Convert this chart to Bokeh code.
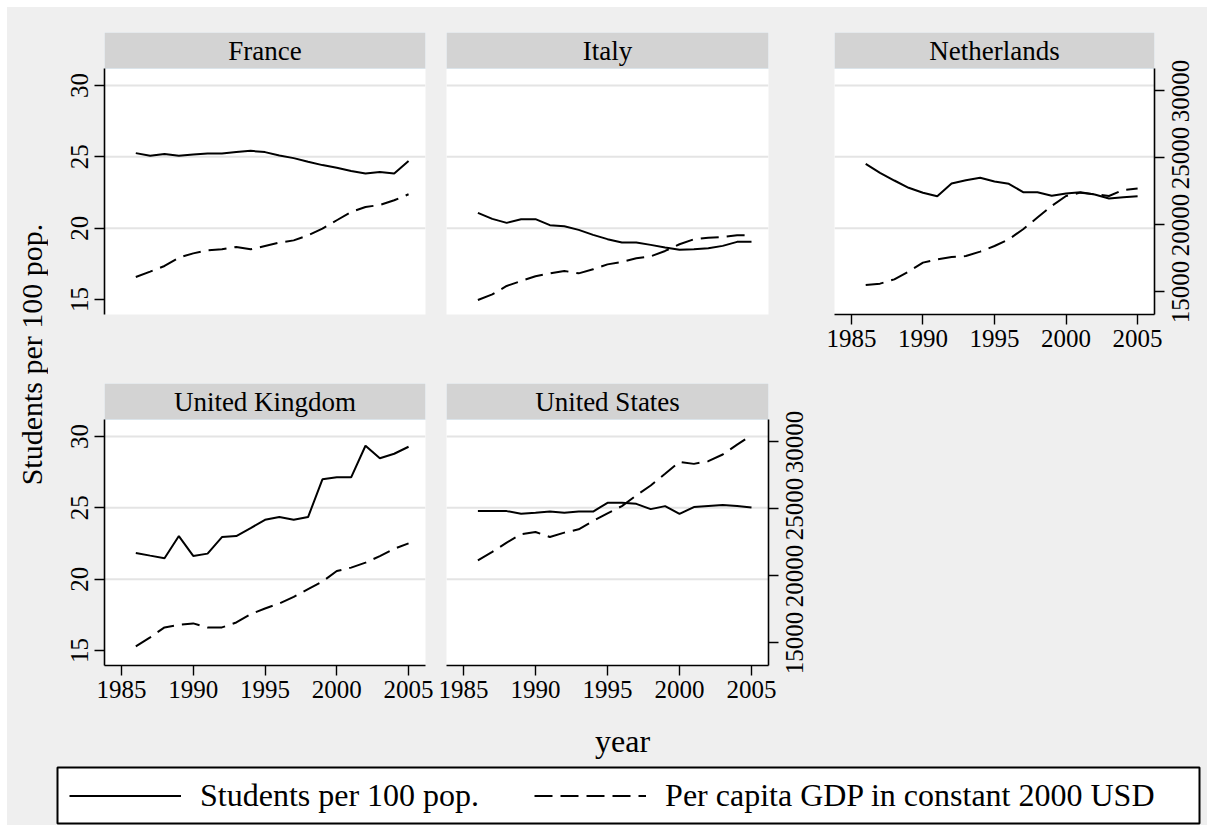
import math
from bokeh.plotting import figure
from bokeh.layouts import row, column
from bokeh.models import (Range1d, LinearAxis, FixedTicker, ColumnDataSource, Span,
                          Legend, LegendItem)
from bokeh.core.properties import value
from bokeh.embed import file_html
from bokeh.resources import INLINE

# ---------------- data ----------------
years = list(range(1986, 2006))

countries = ["France", "Italy", "Netherlands", "United Kingdom", "United States"]

students_france = [25.26, 25.07, 25.19, 25.07, 25.16, 25.23, 25.23, 25.33, 25.42, 25.33,
                   25.09, 24.91, 24.65, 24.42, 24.23, 24.00, 23.83, 23.93, 23.83, 24.70]
gdp_france = [16120, 16520, 16940, 17560, 17880, 18110, 18180, 18360, 18180, 18430,
              18680, 18850, 19230, 19730, 20350, 20970, 21340, 21490, 21840, 22290]

students_italy = [21.07, 20.65, 20.37, 20.63, 20.63, 20.21, 20.14, 19.88, 19.53, 19.23,
                  19.00, 19.00, 18.83, 18.64, 18.48, 18.53, 18.60, 18.76, 19.04, 19.04]
gdp_italy = [14400, 14820, 15450, 15820, 16170, 16390, 16570, 16390, 16690, 17060,
             17240, 17510, 17660, 18060, 18560, 18930, 19050, 19100, 19230, 19230]

students_netherlands = [24.51, 23.88, 23.34, 22.83, 22.48, 22.24, 23.13, 23.36, 23.53, 23.27,
                        23.11, 22.52, 22.52, 22.27, 22.43, 22.52, 22.36, 22.08, 22.17, 22.24]
gdp_netherlands = [15520, 15620, 15940, 16520, 17190, 17440, 17610, 17680, 18010, 18430,
                   18930, 19680, 20550, 21420, 22160, 22410, 22290, 22160, 22610, 22710]

students_uk = [21.84, 21.65, 21.47, 23.02, 21.63, 21.79, 22.95, 23.02, 23.58, 24.16,
               24.35, 24.16, 24.35, 27.00, 27.14, 27.14, 29.35, 28.47, 28.79, 29.28]
gdp_uk = [14750, 15420, 16160, 16360, 16460, 16160, 16160, 16530, 17150, 17570,
          17950, 18440, 19010, 19580, 20370, 20620, 20990, 21480, 22030, 22430]

students_us = [24.77, 24.77, 24.77, 24.58, 24.65, 24.74, 24.65, 24.74, 24.74, 25.35,
               25.35, 25.28, 24.91, 25.12, 24.58, 25.05, 25.12, 25.19, 25.12, 25.02]
gdp_us = [21170, 21790, 22490, 23110, 23280, 22910, 23230, 23480, 24100, 24670,
          25210, 26010, 26750, 27620, 28510, 28360, 28560, 29060, 29800, 30500]

students_ticks = [15, 20, 25, 30]
grid_ticks = [20, 25, 30]
gdp_ticks = [15000, 20000, 25000, 30000]
year_ticks = [1985, 1990, 1995, 2000, 2005]

series_labels = ["Students per 100 pop.", "Per capita GDP in constant 2000 USD"]
x_title = "year"
y_title = "Students per 100 pop."

# ---------------- styling / geometry ----------------
FONT = "Liberation Serif"
BG = "#efefef"
STRIP = "#d3d3d3"
STRIP_EDGE = "#dbe4ea"
GRID = "#e4e4e4"
DASH = "18 8"
TICK_FS = "25px"

X_LO, X_HI = 1983.82, 2006.18
Y_LO, Y_HI = 13.95, 31.19
G_LO, G_HI = 13320, 31670
PLOT_PX, STRIP_PX = 246, 36
FRAME_PX = PLOT_PX + STRIP_PX
Y_TOP = Y_HI + (Y_HI - Y_LO) * STRIP_PX / PLOT_PX
G_TOP = G_HI + (G_HI - G_LO) * STRIP_PX / PLOT_PX
RIGHT_TICK_BORDER = 12   # right border of panels that carry the GDP axis (ticks only)
RIGHT_LABEL_GAP = 5      # from that border to the top of the rotated GDP labels


def style_axis(ax):
    ax.major_tick_out = 10
    ax.major_tick_in = 0
    ax.minor_tick_out = 0
    ax.minor_tick_in = 0
    ax.axis_line_width = 1.6
    ax.axis_line_color = "black"
    ax.major_tick_line_width = 1.4
    ax.major_tick_line_color = "black"
    ax.major_label_text_font = FONT
    ax.major_label_text_font_size = TICK_FS
    ax.major_label_text_color = "black"
    ax.major_label_standoff = 6


def base_fig(w, h, xr, yr, mb, bg, border, outline=None, outline_w=1):
    f = figure(width=w, height=h, x_range=xr, y_range=yr,
               x_axis_location=None, y_axis_location=None, toolbar_location=None,
               output_backend="svg", title=None,
               min_border_left=mb[0], min_border_right=mb[1],
               min_border_top=mb[2], min_border_bottom=mb[3],
               background_fill_color=bg, border_fill_color=border,
               outline_line_color=outline, outline_line_width=outline_w)
    f.xgrid.visible = False
    f.ygrid.visible = False
    try:
        f.frame_align = False   # keep every figure's own borders in the layout
    except AttributeError:
        pass
    return f


def panel(name, students, gdp, left, right, bottom, mb_l, mb_r, mb_t, mb_b, frame_w):
    w = mb_l + frame_w + mb_r
    h = mb_t + FRAME_PX + mb_b
    p = base_fig(w, h, Range1d(X_LO, X_HI), Range1d(Y_LO, Y_TOP),
                 (mb_l, mb_r, mb_t, mb_b), "white", BG)
    p.extra_y_ranges = {"gdp": Range1d(G_LO, G_TOP)}
    for v in grid_ticks:
        p.add_layout(Span(location=v, dimension="width", line_color=GRID,
                          line_width=2, level="underlay"))
    # header strip
    p.quad(left=[X_LO], right=[X_HI], bottom=[Y_HI], top=[Y_TOP],
           fill_color=STRIP, line_color=STRIP_EDGE, line_width=1)
    p.text(x=[(X_LO + X_HI) / 2], y=[(Y_HI + Y_TOP) / 2], text=[name],
           text_align="center", text_baseline="middle", text_color="black",
           text_font=value(FONT), text_font_size="27px")
    src = ColumnDataSource(dict(year=years, students=students, gdp=gdp))
    p.line("year", "students", source=src, line_color="black", line_width=2)
    p.line("year", "gdp", source=src, y_range_name="gdp", line_color="black",
           line_width=2, line_dash=DASH)
    if left:
        ax = LinearAxis(ticker=FixedTicker(ticks=students_ticks, minor_ticks=[]),
                        bounds=(Y_LO, Y_HI))
        style_axis(ax)
        ax.major_label_orientation = "vertical"   # reads bottom-to-top, centred on tick
        p.add_layout(ax, "left")
    if right:
        ax = LinearAxis(y_range_name="gdp", ticker=FixedTicker(ticks=gdp_ticks, minor_ticks=[]),
                        bounds=(G_LO, G_HI))
        style_axis(ax)
        # the tick labels are drawn in the label column beside the panel
        ax.major_label_text_font_size = "1px"
        ax.major_label_text_color = None
        ax.major_label_standoff = 0
        p.add_layout(ax, "right")
    if bottom:
        ax = LinearAxis(ticker=FixedTicker(ticks=year_ticks, minor_ticks=[]),
                        bounds=(X_LO, X_HI))
        style_axis(ax)
        ax.major_label_standoff = 5
        p.add_layout(ax, "below")
    return p


def gdp_label_fig(w, mb_t, mb_b):
    """Column to the right of a panel carrying the rotated GDP tick labels,
    on the same GDP scale as the panel it sits next to."""
    h = mb_t + FRAME_PX + mb_b
    upp = (G_TOP - G_LO) / FRAME_PX
    f = base_fig(w, h, Range1d(0, w), Range1d(G_LO - mb_b * upp, G_TOP + mb_t * upp),
                 (0, 0, 0, 0), BG, BG)
    f.text(x=[RIGHT_LABEL_GAP] * len(gdp_ticks), y=gdp_ticks, text=[str(t) for t in gdp_ticks],
           angle=math.pi / 2, text_align="center", text_baseline="top", text_color="black",
           text_font=value(FONT), text_font_size=TICK_FS)
    return f


MARGIN = 7
INNER_W = 1200
ROW1_T, ROW1_B = 25, 69
ROW2_T, ROW2_B = 0, 47

# column 1
f_fr = panel(countries[0], students_france, gdp_france, True, False, False, 56, 10, ROW1_T, ROW1_B, 321)
f_uk = panel(countries[3], students_uk, gdp_uk, True, False, True, 56, 10, ROW2_T, ROW2_B, 321)
# column 2
f_it = panel(countries[1], students_italy, gdp_italy, False, False, False, 11, 48, ROW1_T, ROW1_B, 322)
f_us = panel(countries[4], students_us, gdp_us, False, True, True, 11, RIGHT_TICK_BORDER,
             ROW2_T, ROW2_B, 322)
l_us = gdp_label_fig(48 - RIGHT_TICK_BORDER, ROW2_T, ROW2_B)
# column 3
f_nl = panel(countries[2], students_netherlands, gdp_netherlands, False, True, True, 18,
             RIGHT_TICK_BORDER, ROW1_T, ROW1_B, 320)
l_nl = gdp_label_fig(53 - RIGHT_TICK_BORDER, ROW1_T, ROW1_B)
top_h = ROW1_T + FRAME_PX + ROW1_B
bot_h = ROW2_T + FRAME_PX + ROW2_B
f_fill = base_fig(18 + 320 + 53, bot_h, Range1d(0, 1), Range1d(0, 1), (0, 0, 0, 0), BG, BG)

grid_h = top_h + bot_h

# y-axis title
yt_w = 41
yt = base_fig(yt_w, grid_h, Range1d(0, yt_w), Range1d(0, grid_h), (0, 0, 0, 0), BG, BG)
yt.text(x=[24], y=[grid_h - (354 - MARGIN)], text=[y_title], angle=math.pi / 2,
        text_align="center", text_baseline="middle", text_color="black",
        text_font=value(FONT), text_font_size="30px")

# x-axis title
xt_h = 54
xt = base_fig(INNER_W, xt_h, Range1d(0, INNER_W), Range1d(0, xt_h), (0, 0, 0, 0), BG, BG)
xt.text(x=[622 - MARGIN], y=[xt_h - 28], text=[x_title], text_align="center",
        text_baseline="middle", text_color="black", text_font=value(FONT),
        text_font_size="32px")

# legend (frame outline is the legend box)
lg = base_fig(INNER_W, 59, Range1d(0, 1), Range1d(0, 1), (50, 8, 1, 2), "white", BG,
              outline="black", outline_w=2)
r1 = lg.line(x=years, y=students_france, line_color="black", line_width=2)
r2 = lg.line(x=years, y=gdp_france, line_color="black", line_width=2, line_dash=DASH)
legend = Legend(items=[LegendItem(label=series_labels[0], renderers=[r1]),
                       LegendItem(label=series_labels[1], renderers=[r2])],
                orientation="horizontal", location="center_left", margin=12, padding=2,
                glyph_width=112, glyph_height=20, label_standoff=19, spacing=55,
                label_text_font=FONT, label_text_font_size="32px", label_text_color="black",
                border_line_color=None, background_fill_alpha=0)
lg.add_layout(legend, "center")

# white outer margin (as in the reference)
top_band = base_fig(MARGIN + INNER_W, MARGIN, Range1d(0, 1), Range1d(0, 1), (0, 0, 0, 0), "white", "white")
left_band = base_fig(MARGIN, grid_h + xt_h + 59, Range1d(0, 1), Range1d(0, 1), (0, 0, 0, 0), "white", "white")

S = {"background-color": BG}
content = column(
    row(yt,
        column(f_fr, f_uk, styles=S),
        column(f_it, row(f_us, l_us, styles=S), styles=S),
        column(row(f_nl, l_nl, styles=S), f_fill, styles=S),
        styles=S),
    xt,
    lg,
    styles=S,
)
layout = column(top_band, row(left_band, content))

open("out.html", "w").write(file_html(layout, INLINE))
